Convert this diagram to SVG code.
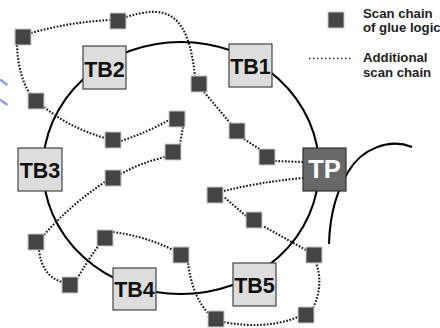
<svg xmlns="http://www.w3.org/2000/svg" width="440" height="328" viewBox="0 0 440 328">
<style>
.tb{fill:#dddddd;stroke:#444;stroke-width:1.2}
.tp{fill:#686868;stroke:#333;stroke-width:1.2}
.lbl{font-family:"Liberation Sans",Arial,sans-serif;font-weight:bold;font-size:21.5px;text-anchor:middle;fill:#111}
.lblw{font-family:"Liberation Sans",Arial,sans-serif;font-weight:bold;font-size:25.5px;text-anchor:middle;fill:#fff}
.leg{font-family:"Liberation Sans",Arial,sans-serif;font-weight:bold;font-size:13.2px;fill:#222}
.sq{fill:#444;stroke:#c8c8c8;stroke-width:1}
.dot{fill:none;stroke:#1a1a1a;stroke-width:2.1;stroke-dasharray:1.7 1.6}
.solid{fill:none;stroke:#000;stroke-width:2.1}
</style>
<rect width="440" height="328" fill="#fff"/>
<g id="blue-marks" stroke="#6f86e8" stroke-width="2.5" fill="none" opacity="0.8">
<path d="M0,79.5 L7.5,85"/>
<path d="M0,99.5 L7.5,105"/>
</g>
<g id="connectors">
<ellipse class="solid" cx="181" cy="168" rx="138" ry="126"/>
<path class="solid" d="M412,147 C390,138 362,148 348,172 C338,190 330,210 329,244"/>
<path class="dot" d="M31,33 Q70,22 110,20"/>
<path class="dot" d="M126,17 C165,5 188,10 195,76"/>
<path class="dot" d="M204,92 L231,124"/>
<path class="dot" d="M244,139 L261,150"/>
<path class="dot" d="M275,161 L303,162"/>
<path class="dot" d="M17,45 Q18,75 30,94"/>
<path class="dot" d="M44,107 Q70,128 105,138"/>
<path class="dot" d="M121,141 Q148,132 169,120"/>
<path class="dot" d="M183,127 L180,144"/>
<path class="dot" d="M165,157 Q140,163 121,174"/>
<path class="dot" d="M105,182 Q70,205 44,235"/>
<path class="dot" d="M39,250 Q42,276 62,282"/>
<path class="dot" d="M77,279 Q88,260 99,245"/>
<path class="dot" d="M113,232 Q145,236 173,250"/>
<path class="dot" d="M188,263 Q192,295 208,313"/>
<path class="dot" d="M224,322 Q265,330 298,317"/>
<path class="dot" d="M313,308 Q324,285 316,263"/>
<path class="dot" d="M306,250 L263,226"/>
<path class="dot" d="M246,216 L224,197"/>
<path class="dot" d="M224,191 Q260,182 303,178"/>
</g>
<g id="glue">
<rect class="sq" x="15" y="29" width="16" height="16"/>
<rect class="sq" x="110" y="13" width="16" height="16"/>
<rect class="sq" x="191" y="76" width="16" height="16"/>
<rect class="sq" x="28" y="93" width="16" height="16"/>
<rect class="sq" x="105" y="132" width="16" height="16"/>
<rect class="sq" x="169" y="111" width="16" height="16"/>
<rect class="sq" x="165" y="144" width="16" height="16"/>
<rect class="sq" x="229" y="123" width="16" height="16"/>
<rect class="sq" x="259" y="149" width="16" height="16"/>
<rect class="sq" x="207" y="187" width="16" height="16"/>
<rect class="sq" x="105" y="170" width="16" height="16"/>
<rect class="sq" x="28" y="234" width="16" height="16"/>
<rect class="sq" x="97" y="230" width="16" height="16"/>
<rect class="sq" x="62" y="277" width="16" height="16"/>
<rect class="sq" x="173" y="247" width="16" height="16"/>
<rect class="sq" x="208" y="311" width="16" height="16"/>
<rect class="sq" x="246" y="212" width="16" height="16"/>
<rect class="sq" x="306" y="247" width="16" height="16"/>
<rect class="sq" x="298" y="307" width="16" height="16"/>
</g>
<g id="TB1"><rect class="tb" x="229" y="44" width="43" height="43"/><text class="lbl" x="250.5" y="73.5">TB1</text></g>
<g id="TB2"><rect class="tb" x="83" y="46" width="43" height="43"/><text class="lbl" x="104.5" y="76.5">TB2</text></g>
<g id="TB3"><rect class="tb" x="18" y="148" width="44" height="43"/><text class="lbl" x="40" y="177.5">TB3</text></g>
<g id="TB4"><rect class="tb" x="113" y="268" width="43" height="42"/><text class="lbl" x="134.5" y="297">TB4</text></g>
<g id="TB5"><rect class="tb" x="233" y="263" width="43" height="43"/><text class="lbl" x="254.5" y="292.5">TB5</text></g>
<g id="TP"><rect class="tp" x="303" y="148" width="43" height="43"/><text class="lblw" x="324.5" y="177.5">TP</text></g>
<g id="legend">
<rect class="sq" x="328" y="12" width="16" height="16"/>
<text class="leg" x="363" y="18">Scan chain</text>
<text class="leg" x="363" y="32">of glue logic</text>
<path d="M309,58.5 L353,58.5" fill="none" stroke="#222" stroke-width="1.6" stroke-dasharray="1.5 2.5"/>
<text class="leg" x="363" y="62">Additional</text>
<text class="leg" x="363" y="76.5">scan chain</text>
</g>
</svg>
